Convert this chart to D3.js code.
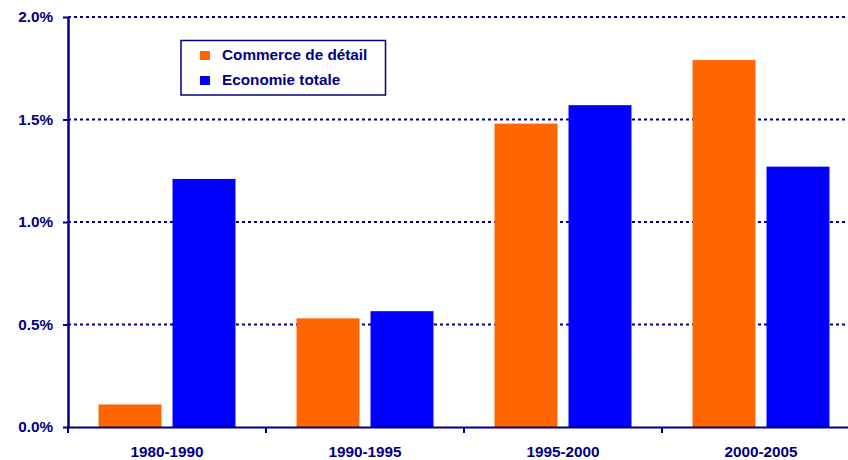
<!DOCTYPE html>
<html>
<head>
<meta charset="utf-8">
<script src="https://cdn.jsdelivr.net/npm/d3@7"></script>
<style>
html, body { margin: 0; padding: 0; background: #fff; }
svg { display: block; }
text { font-family: "Liberation Sans", Arial, sans-serif; font-weight: bold; fill: #000080; }
</style>
</head>
<body>
<svg id="chart" width="848" height="460"></svg>
<script>
const categories = ["1980-1990", "1990-1995", "1995-2000", "2000-2005"];
const seriesNames = ["Commerce de détail", "Economie totale"];
const commerceValues = [0.11, 0.53, 1.48, 1.79];
const economieValues = [1.21, 0.565, 1.57, 1.27];
const yTicks = [0, 0.5, 1.0, 1.5, 2.0];
const colors = ["#FF6600", "#0000FF"];

const navy = "#000080";
const svg = d3.select("#chart");
const x0 = 68, x1 = 860, yTop = 17, yBot = 427;

const x = d3.scaleBand().domain(categories).range([x0, x1]).padding(0);
const xs = d3.scaleBand().domain(seriesNames).range([0, x.bandwidth()])
  .paddingInner(0.149).paddingOuter(0.4125);
const y = d3.scaleLinear().domain([0, 2]).range([yBot, yTop]);

// gridlines
svg.append("g").selectAll("line")
  .data(yTicks.filter(d => d > 0))
  .join("line")
  .attr("x1", x0).attr("x2", 846)
  .attr("y1", d => y(d)).attr("y2", d => y(d))
  .attr("stroke", navy).attr("stroke-width", 2)
  .attr("stroke-dasharray", "3,3");

// bars
const rows = categories.map((c, i) => ({cat: c, vals: [commerceValues[i], economieValues[i]]}));
const g = svg.append("g").selectAll("g").data(rows).join("g")
  .attr("transform", d => `translate(${x(d.cat)},0)`);
g.selectAll("rect")
  .data(d => d.vals.map((v, j) => ({name: seriesNames[j], v, j})))
  .join("rect")
  .attr("x", d => xs(d.name))
  .attr("width", xs.bandwidth())
  .attr("y", d => y(d.v))
  .attr("height", d => y(0) - y(d.v))
  .attr("fill", d => colors[d.j]);

// y axis
const yAxis = svg.append("g").attr("transform", `translate(${x0},0)`)
  .call(d3.axisLeft(y).tickValues(yTicks).tickFormat(d => d.toFixed(1) + "%").tickSize(5).tickPadding(10).tickSizeOuter(0));
yAxis.select(".domain").attr("stroke", navy).attr("stroke-width", 2.5);
yAxis.selectAll(".tick line").attr("stroke", navy).attr("stroke-width", 2);
yAxis.selectAll(".tick text").attr("font-size", 15.3).style("fill", navy)
  .attr("font-family", "Liberation Sans, Arial, sans-serif").attr("font-weight", "bold");

// x axis
const xAxis = svg.append("g").attr("transform", `translate(0,${yBot})`)
  .call(d3.axisBottom(x).tickSize(0).tickPadding(19).tickSizeOuter(0));
xAxis.select(".domain").attr("stroke", navy).attr("stroke-width", 2);
xAxis.selectAll(".tick text").attr("font-size", 15.3).style("fill", navy)
  .attr("font-family", "Liberation Sans, Arial, sans-serif").attr("font-weight", "bold");
// category boundary ticks
svg.append("g").selectAll("line")
  .data(categories)
  .join("line")
  .attr("x1", d => x(d)).attr("x2", d => x(d))
  .attr("y1", yBot).attr("y2", yBot + 6)
  .attr("stroke", navy).attr("stroke-width", 2);

// legend
const lg = svg.append("g");
lg.append("rect").attr("x", 181).attr("y", 40.5).attr("width", 204.5).attr("height", 54.5)
  .attr("fill", "#fff").attr("stroke", navy).attr("stroke-width", 1.5);
seriesNames.forEach((n, i) => {
  lg.append("rect").attr("x", 200).attr("y", 51 + i * 25).attr("width", 10).attr("height", 9)
    .attr("fill", colors[i]);
  lg.append("text").attr("x", 222).attr("y", 60 + i * 25).attr("font-size", 15.3).text(n);
});
</script>
</body>
</html>
